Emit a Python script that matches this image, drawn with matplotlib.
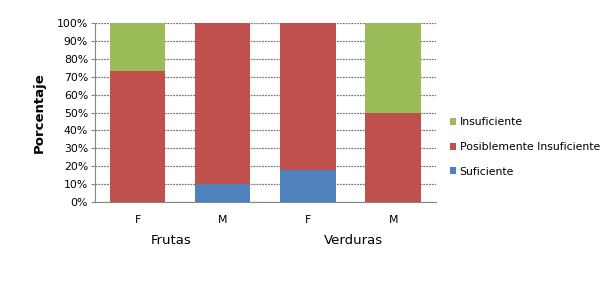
import matplotlib.pyplot as plt
import numpy as np

categorias = ["F", "M", "F", "M"]
grupos = ["Frutas", "Verduras"]
suficiente = [0, 10, 18, 0]
posible_insuf = [73, 90, 82, 50]
insuficiente = [27, 0, 0, 50]

fig = plt.figure(figsize=(6.14, 2.95), dpi=100)
ax = fig.add_axes([0.1547, 0.315, 0.555, 0.607])

x = np.arange(len(categorias))
w = 0.65
ax.bar(x, suficiente, w, color="#4F81BD", label="Suficiente", zorder=3)
ax.bar(x, posible_insuf, w, bottom=suficiente, color="#C0504D",
       label="Posiblemente Insuficiente", zorder=3)
bottom2 = np.array(suficiente) + np.array(posible_insuf)
ax.bar(x, insuficiente, w, bottom=bottom2, color="#9BBB59", label="Insuficiente", zorder=3)

ax.set_xlim(-0.5, 3.5)
ax.set_ylim(0, 100)
ax.set_yticks(range(0, 101, 10))
ax.set_yticklabels([f"{v}%" for v in range(0, 101, 10)], fontsize=7.8)
ax.set_xticks(x)
ax.set_xticklabels(categorias, fontsize=7.8)
ax.tick_params(axis="x", length=0, pad=9)
ax.tick_params(axis="y", length=3, color="#868686", pad=2)
ax.grid(axis="y", color="#7a7a7a", linestyle=(0, (1.5, 0.8)), linewidth=0.9, zorder=0)
for s in ["top", "right"]:
    ax.spines[s].set_visible(False)
for s in ["left", "bottom"]:
    ax.spines[s].set_color("#868686")

ax.set_ylabel("Porcentaje", fontsize=9.5, fontweight="bold", labelpad=8)

fig.text(171 / 614, 1 - 241 / 295, grupos[0], fontsize=9.5, ha="center", va="center")
fig.text(353 / 614, 1 - 241 / 295, grupos[1], fontsize=9.5, ha="center", va="center")

handles, labels = ax.get_legend_handles_labels()
fig.legend(handles[::-1], labels[::-1], loc="center left",
           bbox_to_anchor=(440 / 614, 1 - 147 / 295), frameon=False,
           fontsize=7.8, handlelength=0.6, handleheight=0.6,
           handletextpad=0.3, labelspacing=1.35)

fig.savefig("out.png", dpi=100)
